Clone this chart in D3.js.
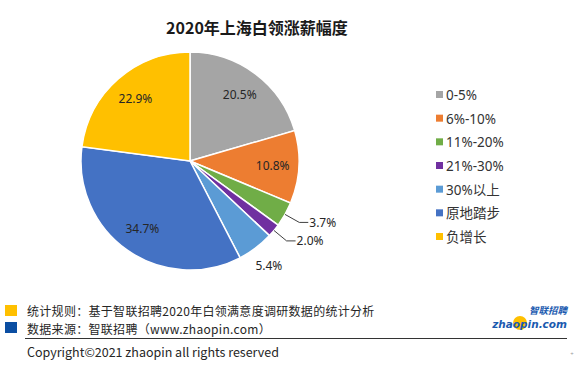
<!DOCTYPE html>
<html><head><meta charset="utf-8">
<script src="https://cdn.jsdelivr.net/npm/d3@7/dist/d3.min.js"></script>
<style>body{margin:0;background:#fff}svg{display:block}</style>
</head><body>
<script>
const categories = ["0-5%","6%-10%","11%-20%","21%-30%","30%以上","原地踏步","负增长"];
const values = [20.5,10.8,3.7,2.0,5.4,34.7,22.9];
const colors = ["#A5A5A5","#ED7D31","#70AD47","#7030A0","#5B9BD5","#4472C4","#FFC000"];
const outside = [false,false,true,true,true,false,false];
const leader = [false,false,true,true,false,false,false];
const title = "2020年上海白领涨薪幅度";
const notes = ["统计规则：基于智联招聘2020年白领满意度调研数据的统计分析","数据来源：智联招聘（www.zhaopin.com）"];
const copyright = "Copyright©2021 zhaopin all rights reserved";

const W=580,H=368;
const svg=d3.select("body").append("svg").attr("width",W).attr("height",H);
const font='"Noto Sans","Noto Sans CJK SC",sans-serif';
const ff='"Noto Sans CJK SC","Noto Sans",sans-serif';

svg.append("text").attr("x",257).attr("y",34).attr("text-anchor","middle")
  .attr("font-family",ff).attr("font-weight","bold")
  .attr("font-size",16).attr("fill","#1a1a1a").text(title);

const cx=190,cy=161,R=109;
const data=categories.map((c,i)=>({c,v:values[i],col:colors[i],out:outside[i],lead:leader[i]}));
const pie=d3.pie().value(d=>d.v).sort(null);
const arcs=pie(data);
const arc=d3.arc().innerRadius(0).outerRadius(R);
const g=svg.append("g").attr("transform",`translate(${cx},${cy})`);
g.selectAll("path").data(arcs).join("path").attr("d",arc)
  .attr("fill",d=>d.data.col).attr("stroke","#fff").attr("stroke-width",1.5);

const inArc=d3.arc().innerRadius(R*0.76).outerRadius(R*0.76);
const mid=d=>(d.startAngle+d.endAngle)/2;
const pt=(a,r)=>[Math.sin(a)*r,-Math.cos(a)*r];
const lfs=12;
arcs.forEach(d=>{
  const lbl=d3.format(".1f")(d.data.v)+"%";
  const a=mid(d);
  if(!d.data.out){
    const [x,y]=inArc.centroid(d);
    g.append("text").attr("x",x).attr("y",y).attr("dy","0.35em").attr("text-anchor","middle")
     .attr("font-family",font).attr("font-size",lfs).attr("fill","#262626").text(lbl);
  } else if(d.data.lead){
    const p0=pt(a,R), p1=pt(a,R*1.15);
    const p2=[p1[0]+9,p1[1]];
    g.append("polyline").attr("points",[p0,p1,p2].map(p=>p.join(",")).join(" "))
     .attr("fill","none").attr("stroke","#404040").attr("stroke-width",1);
    g.append("text").attr("x",p2[0]+1).attr("y",p2[1]).attr("dy","0.35em")
     .attr("font-family",font).attr("font-size",lfs).attr("fill","#262626").text(lbl);
  } else {
    const p=pt(a,R*1.2);
    g.append("text").attr("x",p[0]).attr("y",p[1]).attr("dy","0.35em").attr("text-anchor","middle")
     .attr("font-family",font).attr("font-size",lfs).attr("fill","#262626").text(lbl);
  }
});

// legend
const ly=d3.scalePoint().domain(categories).range([95,237]);
const lg=svg.append("g");
categories.forEach((c,i)=>{
  lg.append("rect").attr("x",436).attr("y",ly(c)-4).attr("width",7).attr("height",7).attr("fill",colors[i]);
  lg.append("text").attr("x",446).attr("y",ly(c)).attr("dy","0.38em")
    .attr("font-family",font).attr("font-size",13.5).attr("fill","#333").text(c);
});

// footer
svg.append("rect").attr("x",5).attr("y",305).attr("width",12).attr("height",11).attr("fill","#FFC000");
svg.append("rect").attr("x",5).attr("y",322).attr("width",12).attr("height",11).attr("fill","#0B4EA2");
svg.append("text").attr("x",27).attr("y",316).attr("font-family",ff).attr("font-size",12).attr("letter-spacing",0.3).attr("fill","#262626").text(notes[0]);
svg.append("text").attr("x",27).attr("y",334).attr("font-family",ff).attr("font-size",12).attr("letter-spacing",0.3).attr("fill","#262626").text(notes[1]);
svg.append("line").attr("x1",25).attr("x2",567).attr("y1",338.5).attr("y2",338.5).attr("stroke","#333").attr("stroke-width",1.2);
svg.append("text").attr("x",27).attr("y",357).attr("font-family",ff).attr("font-size",12.5).attr("fill","#262626").text(copyright);

// logo
svg.append("circle").attr("cx",520).attr("cy",323).attr("r",7).attr("fill","#FFC000");
svg.append("text").attr("x",567).attr("y",314).attr("text-anchor","end").attr("font-family",ff)
  .attr("font-weight","bold").attr("font-style","italic").attr("font-size",9.5).attr("fill","#1a5aaf").text("智联招聘");
svg.append("text").attr("x",567).attr("y",328).attr("text-anchor","end").attr("font-family",'"DejaVu Sans",sans-serif')
  .attr("font-weight","bold").attr("font-style","italic").attr("font-size",10.5).attr("fill","#1a5aaf").text("zhaopin.com");
svg.append("text").attr("x",572).attr("y",356).attr("text-anchor","middle").attr("font-family",font)
  .attr("font-size",6).attr("fill","#999").text("+");
</script>
</body></html>
